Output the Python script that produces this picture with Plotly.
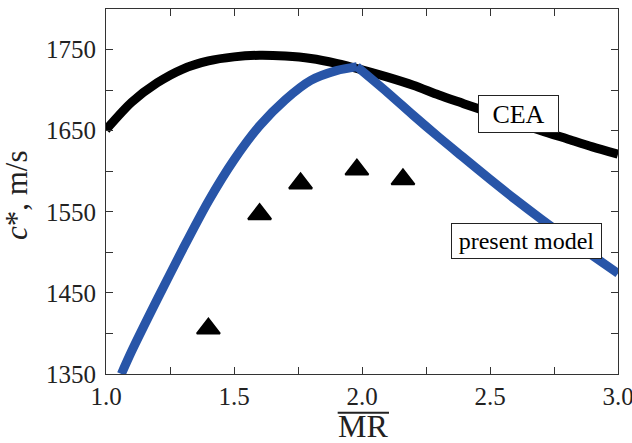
import plotly.graph_objects as go

# CEA curve
cea_x = [1.0, 1.1, 1.2, 1.3, 1.4, 1.5, 1.6, 1.7, 1.8, 1.9, 2.0, 2.1, 2.2, 2.3, 2.4, 2.5, 2.6, 2.7, 2.8, 2.9, 3.0]
cea_y = [1651, 1685, 1709, 1726, 1736, 1741, 1743, 1742, 1739, 1733, 1725, 1716, 1706, 1694, 1683, 1672, 1661, 1650, 1640, 1630, 1621]

# present model curve: rising branch and falling branch (sharp peak at MR ~ 1.98)
model_rise_x = [1.06, 1.1, 1.2, 1.3, 1.4, 1.5, 1.6, 1.7, 1.8, 1.9, 1.98]
model_rise_y = [1350, 1378, 1442, 1504, 1563, 1614, 1656, 1688, 1712, 1724, 1729]
model_fall_x = [1.98, 2.1, 2.2, 2.3, 2.4, 2.5, 2.6, 2.7, 2.8, 2.9, 3.0]
model_fall_y = [1729, 1697, 1669, 1642, 1616, 1590, 1565, 1541, 1518, 1496, 1474]

# experimental points
exp_x = [1.40, 1.60, 1.76, 1.98, 2.16]
exp_y = [1406, 1547, 1585, 1602, 1590]

x_ticks = [1.0, 1.5, 2.0, 2.5, 3.0]
x_ticklabels = ["1.0", "1.5", "2.0", "2.5", "3.0"]
y_ticks = [1350, 1450, 1550, 1650, 1750]
y_ticklabels = ["1350", "1450", "1550", "1650", "1750"]

FONT = "Liberation Serif"
AX = "#333333"
BLUE = "#2855a8"

fig = go.Figure()
fig.add_trace(go.Scatter(x=cea_x, y=cea_y, mode="lines",
                         line=dict(color="black", width=9, shape="spline", smoothing=0.8),
                         showlegend=False))
fig.add_trace(go.Scatter(x=model_rise_x, y=model_rise_y, mode="lines",
                         line=dict(color=BLUE, width=9, shape="spline", smoothing=0.8),
                         showlegend=False))
fig.add_trace(go.Scatter(x=model_fall_x, y=model_fall_y, mode="lines",
                         line=dict(color=BLUE, width=9, shape="spline", smoothing=0.8),
                         showlegend=False))
fig.add_trace(go.Scatter(x=exp_x, y=exp_y, mode="markers",
                         marker=dict(symbol="triangle-up", size=20, color="black",
                                     line=dict(color="black", width=2)),
                         showlegend=False))

axis_common = dict(
    showline=True, linecolor=AX, linewidth=1.2, mirror="ticks",
    ticks="inside", ticklen=7, tickwidth=1, tickcolor=AX,
    showgrid=False, zeroline=False, ticklabeloverflow="allow", automargin=False,
    tickfont=dict(family=FONT, size=25, color="#222222"),
)

fig.update_layout(
    width=632, height=443,
    margin=dict(l=106, r=14, t=9, b=69),
    paper_bgcolor="white", plot_bgcolor="white",
    xaxis=dict(range=[1.0, 3.00001], tickvals=x_ticks, ticktext=x_ticklabels,
               minor=dict(tickvals=[1.25, 1.75, 2.25, 2.75], ticks="inside", ticklen=7,
                          tickcolor=AX, tickwidth=1),
               **axis_common),
    yaxis=dict(range=[1350, 1800], tickvals=y_ticks, ticktext=y_ticklabels,
               minor=dict(tickvals=[1400, 1500, 1600, 1700], ticks="inside", ticklen=7,
                          tickcolor=AX, tickwidth=1),
               ticklabelstandoff=4,
               **axis_common),
    annotations=[
        dict(x=2.613, y=1671, xref="x", yref="y", text="CEA", showarrow=False,
             font=dict(family=FONT, size=26, color="black"),
             bgcolor="white", bordercolor="#222222", borderwidth=1, borderpad=0,
             width=79, height=36),
        dict(x=2.642, y=1514, xref="x", yref="y", text="present model", showarrow=False,
             font=dict(family=FONT, size=24, color="black"),
             bgcolor="white", bordercolor="#222222", borderwidth=1, borderpad=0,
             width=149, height=34),
        dict(x=0.502, y=-0.143, xref="paper", yref="paper", text="MR", showarrow=False,
             xanchor="center", yanchor="middle",
             font=dict(family=FONT, size=32, color="#222222")),
        dict(x=-0.176, y=0.49, xref="paper", yref="paper", text="<i>c</i>*, m/s",
             showarrow=False, textangle=-90, xanchor="center", yanchor="middle",
             font=dict(family=FONT, size=31, color="#222222")),
    ],
    shapes=[
        dict(type="line", xref="paper", yref="paper", x0=0.4525, x1=0.5527,
             y0=-0.106, y1=-0.106, line=dict(color="#222222", width=2)),
    ],
)

fig.write_html("out.html")
